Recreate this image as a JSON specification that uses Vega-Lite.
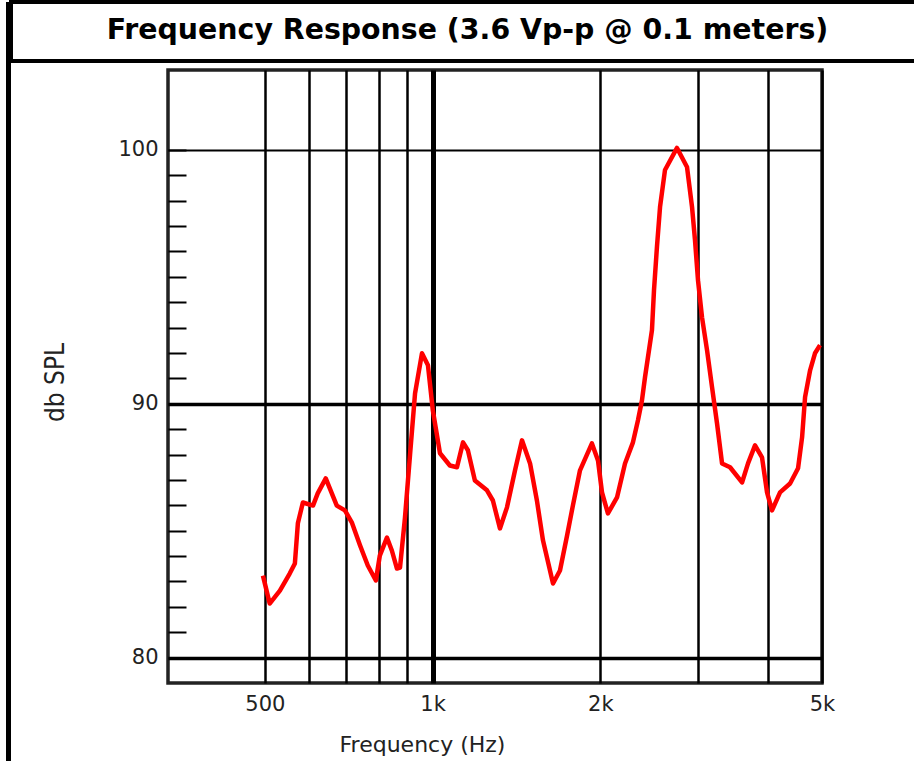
{
  "$schema": "https://vega.github.io/schema/vega-lite/v6.json",
  "padding": {"left": 6, "top": 0, "right": 0, "bottom": 0},
  "background": "white",
  "spacing": -4,
  "hconcat": [
    {
      "width": 5,
      "height": 761,
      "data": {"values": []},
      "mark": "point",
      "encoding": {},
      "view": {"fill": "black", "stroke": null}
    },
    {
      "spacing": 0,
      "vconcat": [
        {
          "width": 910,
          "height": 59,
          "data": {"values": [{"t": "Frequency Response (3.6 Vp-p @ 0.1 meters)"}]},
          "mark": {"type": "text", "font": "DejaVu Sans", "fontWeight": "bold", "fontSize": 28.4, "color": "black", "baseline": "middle", "dx": 1.5, "dy": -2},
          "encoding": {"text": {"field": "t", "type": "nominal"}},
          "view": {"stroke": "black", "strokeWidth": 4}
        },
        {
          "spacing": 28,
          "hconcat": [
            {
              "width": 1,
              "height": 1,
              "data": {"values": []},
              "mark": "point",
              "encoding": {},
              "view": {"stroke": null}
            },
            {
              "width": 654,
              "height": 613,
              "title": {"text": " ", "fontSize": 1, "offset": 4},
              "data": {"values": [
                {"freq": 496, "db": 83.23}, {"freq": 510, "db": 82.13}, {"freq": 532, "db": 82.64}, {"freq": 554, "db": 83.31},
                {"freq": 566, "db": 83.71}, {"freq": 573, "db": 85.29}, {"freq": 585, "db": 86.11}, {"freq": 610, "db": 85.99},
                {"freq": 622, "db": 86.47}, {"freq": 643, "db": 87.06}, {"freq": 673, "db": 85.99}, {"freq": 696, "db": 85.8},
                {"freq": 716, "db": 85.33}, {"freq": 741, "db": 84.42}, {"freq": 765, "db": 83.63}, {"freq": 791, "db": 83.04},
                {"freq": 804, "db": 84.02}, {"freq": 828, "db": 84.73}, {"freq": 845, "db": 84.22}, {"freq": 863, "db": 83.51},
                {"freq": 874, "db": 83.55}, {"freq": 892, "db": 85.5}, {"freq": 911, "db": 88.0}, {"freq": 930, "db": 90.41},
                {"freq": 957, "db": 91.99}, {"freq": 981, "db": 91.52}, {"freq": 1001, "db": 89.74}, {"freq": 1031, "db": 88.05},
                {"freq": 1074, "db": 87.57}, {"freq": 1106, "db": 87.5}, {"freq": 1134, "db": 88.48}, {"freq": 1157, "db": 88.17},
                {"freq": 1191, "db": 86.98}, {"freq": 1252, "db": 86.59}, {"freq": 1283, "db": 86.19}, {"freq": 1321, "db": 85.09},
                {"freq": 1360, "db": 85.92}, {"freq": 1406, "db": 87.38}, {"freq": 1447, "db": 88.56}, {"freq": 1496, "db": 87.65},
                {"freq": 1539, "db": 86.19}, {"freq": 1578, "db": 84.62}, {"freq": 1645, "db": 82.92}, {"freq": 1693, "db": 83.43},
                {"freq": 1743, "db": 84.8}, {"freq": 1786, "db": 86.0}, {"freq": 1839, "db": 87.38}, {"freq": 1932, "db": 88.44},
                {"freq": 1981, "db": 87.77}, {"freq": 2014, "db": 86.51}, {"freq": 2064, "db": 85.68}, {"freq": 2143, "db": 86.31},
                {"freq": 2215, "db": 87.65}, {"freq": 2289, "db": 88.48}, {"freq": 2337, "db": 89.35}, {"freq": 2376, "db": 90.14},
                {"freq": 2406, "db": 91.05}, {"freq": 2476, "db": 92.9}, {"freq": 2497, "db": 94.48}, {"freq": 2528, "db": 96.2},
                {"freq": 2560, "db": 97.75}, {"freq": 2613, "db": 99.21}, {"freq": 2746, "db": 100.08}, {"freq": 2862, "db": 99.33},
                {"freq": 2922, "db": 97.75}, {"freq": 2958, "db": 96.45}, {"freq": 2995, "db": 94.87}, {"freq": 3045, "db": 93.41},
                {"freq": 3109, "db": 92.11}, {"freq": 3174, "db": 90.65}, {"freq": 3240, "db": 89.23}, {"freq": 3308, "db": 87.65},
                {"freq": 3419, "db": 87.5}, {"freq": 3593, "db": 86.9}, {"freq": 3683, "db": 87.65}, {"freq": 3791, "db": 88.36},
                {"freq": 3902, "db": 87.89}, {"freq": 3984, "db": 86.51}, {"freq": 4067, "db": 85.8}, {"freq": 4204, "db": 86.51},
                {"freq": 4382, "db": 86.86}, {"freq": 4529, "db": 87.46}, {"freq": 4605, "db": 88.68}, {"freq": 4662, "db": 90.26},
                {"freq": 4760, "db": 91.32}, {"freq": 4857, "db": 91.99}, {"freq": 4959, "db": 92.31}
              ]},
              "mark": {"type": "line", "color": "#ff0000", "strokeWidth": 4.5, "strokeJoin": "round"},
              "encoding": {
                "x": {
                  "field": "freq",
                  "type": "quantitative",
                  "scale": {"type": "log", "domain": [335, 5000], "nice": false},
                  "axis": {
                    "values": [500, 600, 700, 800, 900, 1000, 2000, 3000, 4000, 5000],
                    "labelExpr": "datum.value == 500 ? '500' : datum.value == 1000 ? '1k' : datum.value == 2000 ? '2k' : datum.value == 5000 ? '5k' : ''",
                    "ticks": false,
                    "tickSize": 0,
                    "domain": false,
                    "grid": true,
                    "gridColor": "black",
                    "gridOpacity": 1,
                    "gridWidth": {"condition": {"test": "datum.value == 1000", "value": 5}, "value": 2.5},
                    "labelFont": "DejaVu Sans",
                    "labelFontSize": 21,
                    "labelColor": "#222222",
                    "labelPadding": 10,
                    "labelFlush": false,
                    "labelOverlap": false,
                    "labelBound": false,
                    "title": "Frequency (Hz)",
                    "titleFont": "DejaVu Sans",
                    "titleFontSize": 22,
                    "titleFontWeight": "normal",
                    "titleColor": "#222222",
                    "titleX": 254,
                    "titleY": 61,
                    "titleBaseline": "middle",
                    "titleAlign": "center"
                  }
                },
                "y": {
                  "field": "db",
                  "type": "quantitative",
                  "scale": {"domain": [79, 103.15], "nice": false, "zero": false},
                  "axis": {
                    "values": [80, 81, 82, 83, 84, 85, 86, 87, 88, 89, 90, 91, 92, 93, 94, 95, 96, 97, 98, 99, 100],
                    "labelExpr": "datum.value % 10 == 0 ? datum.label : ''",
                    "offset": -18,
                    "tickSize": 18,
                    "tickColor": "black",
                    "tickWidth": 2,
                    "domain": false,
                    "grid": true,
                    "gridColor": "black",
                    "gridOpacity": {"condition": {"test": "datum.value % 10 == 0", "value": 1}, "value": 0},
                    "gridWidth": {"condition": {"test": "datum.value == 100", "value": 2}, "value": 3.5},
                    "labelFont": "DejaVu Sans",
                    "labelFontSize": 21,
                    "labelColor": "#222222",
                    "labelPadding": 10,
                    "labelOverlap": false,
                    "title": "db SPL",
                    "titleFont": "'Liberation Sans Narrow', 'DejaVu Sans Condensed', 'Liberation Sans', sans-serif",
                    "titleFontSize": 26,
                    "titleFontWeight": "normal",
                    "titleColor": "#222222",
                    "titleX": -131,
                    "titleY": 312,
                    "titleBaseline": "middle",
                    "titleAngle": -90
                  }
                }
              },
              "view": {"stroke": "#222222", "strokeWidth": 3.5}
            }
          ]
        }
      ]
    }
  ]
}
